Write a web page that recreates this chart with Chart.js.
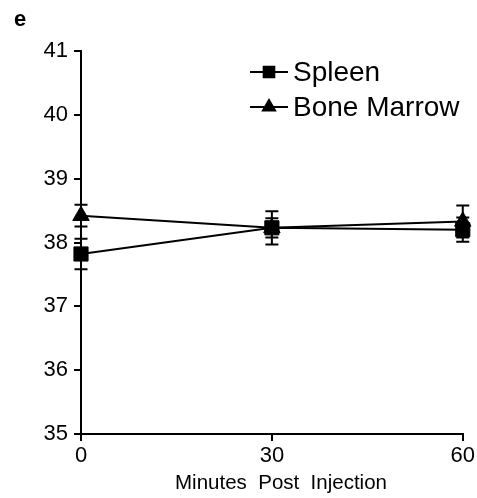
<!DOCTYPE html>
<html>
<head>
<meta charset="utf-8">
<script src="https://cdn.jsdelivr.net/npm/chart.js@4"></script>
<style>
  html, body { margin: 0; padding: 0; background: #fff; }
  #wrap { width: 477px; height: 498px; position: relative; }
</style>
</head>
<body>
<div id="wrap"><canvas id="temp-chart" width="477" height="498"></canvas></div>
<script>
// Temperatura (°C) tras la inyección
const minutes = [0, 30, 60];
const seriesNames = ['Spleen', 'Bone Marrow'];
const spleen = [37.82, 38.23, 38.20];
const spleenErr = [0.24, 0.26, 0.19];
const boneMarrow = [38.42, 38.23, 38.33];
const boneMarrowErr = [0.17, 0.15, 0.25];
const yTicks = [35, 36, 37, 38, 39, 40, 41];
const xTitle = 'Minutes  Post  Injection';
const panelLetter = 'e';

const FONT = "'Liberation Sans', Arial, sans-serif";

function toPoints(xs, ys, errs) {
  return xs.map((x, i) => ({ x: x, y: ys[i], err: errs[i] }));
}

// Barras de error (media ± SEM)
const errorBars = {
  id: 'errorBars',
  afterDatasetsDraw(chart) {
    const { ctx, scales: { x, y } } = chart;
    ctx.save();
    ctx.strokeStyle = '#000';
    ctx.lineWidth = 2;
    chart.data.datasets.forEach(ds => {
      ds.data.forEach(p => {
        const px = x.getPixelForValue(p.x);
        const top = y.getPixelForValue(p.y + p.err);
        const bot = y.getPixelForValue(p.y - p.err);
        ctx.beginPath();
        ctx.moveTo(px, top); ctx.lineTo(px, bot);
        ctx.moveTo(px - 6.5, top); ctx.lineTo(px + 6.5, top);
        ctx.moveTo(px - 6.5, bot); ctx.lineTo(px + 6.5, bot);
        ctx.stroke();
      });
    });
    ctx.restore();
  }
};

// Leyenda dentro del área, título del eje X y letra del panel
const innerLegend = {
  id: 'innerLegend',
  afterDraw(chart) {
    const { ctx } = chart;
    ctx.save();
    ctx.fillStyle = '#000';
    ctx.strokeStyle = '#000';
    ctx.font = 'bold 22px ' + FONT;
    ctx.textBaseline = 'alphabetic';
    ctx.textAlign = 'left';
    ctx.fillText(panelLetter, 14, 26);

    ctx.font = '20.5px ' + FONT;
    ctx.textAlign = 'center';
    ctx.textBaseline = 'middle';
    ctx.fillText(xTitle, 281, 483);
    ctx.textAlign = 'left';

    const rows = [72, 107];
    chart.data.datasets.forEach((ds, i) => {
      const yy = rows[i];
      ctx.lineWidth = 2;
      ctx.beginPath();
      ctx.moveTo(250, yy); ctx.lineTo(288, yy);
      ctx.stroke();
      Chart.helpers.drawPoint(ctx, {
        pointStyle: ds.pointStyle, radius: i === 0 ? 7.5 : 7, borderWidth: 1
      }, 269, yy);
      ctx.fill();
      ctx.font = '28px ' + FONT;
      ctx.textBaseline = 'middle';
      ctx.fillText(ds.label, 293, yy + 1);
    });
    ctx.restore();
  }
};

const ctx = document.getElementById('temp-chart').getContext('2d');
new Chart(ctx, {
  type: 'line',
  data: {
    datasets: [{
      label: seriesNames[0],
      data: toPoints(minutes, spleen, spleenErr),
      borderColor: '#000',
      backgroundColor: '#000',
      borderWidth: 2,
      pointStyle: 'rect',
      pointRadius: 10,
      pointBorderWidth: 1,
      clip: false
    }, {
      label: seriesNames[1],
      data: toPoints(minutes, boneMarrow, boneMarrowErr),
      borderColor: '#000',
      backgroundColor: '#000',
      borderWidth: 2,
      pointStyle: 'triangle',
      pointRadius: 9.5,
      pointBorderWidth: 1,
      clip: false
    }]
  },
  options: {
    responsive: false,
    animation: false,
    layout: { padding: { left: 0, right: 13, top: 51, bottom: 0 } },
    plugins: {
      legend: { display: false },
      tooltip: { enabled: false }
    },
    scales: {
      x: {
        type: 'linear',
        min: 0, max: 60,
        afterBuildTicks: s => { s.ticks = minutes.map(v => ({ value: v })); },
        afterFit: s => { s.height = 64; },
        grid: { drawOnChartArea: false, tickLength: 7, color: '#000', lineWidth: 2 },
        border: { display: true, color: '#000', width: 2 },
        ticks: { color: '#000', font: { family: FONT, size: 22 }, padding: 2 }
      },
      y: {
        min: 35, max: 41,
        afterBuildTicks: s => { s.ticks = yTicks.map(v => ({ value: v })); },
        afterFit: s => { s.width = 81; },
        grid: { drawOnChartArea: false, tickLength: 7, color: '#000', lineWidth: 2 },
        border: { display: true, color: '#000', width: 2 },
        ticks: { color: '#000', font: { family: FONT, size: 22 }, padding: 6 }
      }
    }
  },
  plugins: [errorBars, innerLegend]
});
</script>
</body>
</html>
